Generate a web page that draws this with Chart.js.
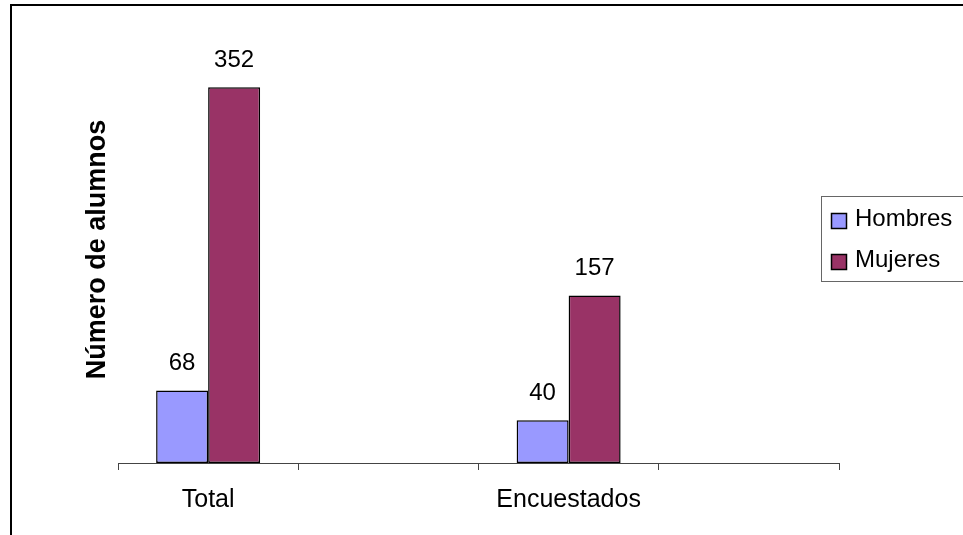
<!DOCTYPE html>
<html>
<head>
<meta charset="utf-8">
<script src="https://cdn.jsdelivr.net/npm/chart.js@4/dist/chart.umd.min.js"></script>
<style>
    html, body { margin: 0; padding: 0; background: #fff; overflow: hidden; }
    #frame {
        position: absolute; left: 10px; top: 4px;
        width: 1000px; height: 600px;
        border-left: 2px solid #000; border-top: 2px solid #000;
    }
    #wrap { position: absolute; left: 0; top: 0; width: 963px; height: 535px; }
</style>
</head>
<body>
<div id="frame"></div>
<div id="wrap"><canvas id="chart-alumnos" width="963" height="535"></canvas></div>
<script>
// Número de alumnos por sexo
const categories = ['Total', '', 'Encuestados', ''];
const hombres = [68, null, 40, null];
const mujeres = [352, null, 157, null];
const yMax = 400;

const FONT = "'Liberation Sans', Arial, sans-serif";

// value labels above each bar
const valueLabels = {
    id: 'valueLabels',
    afterDatasetsDraw(chart) {
        const ctx = chart.ctx;
        ctx.save();
        ctx.fillStyle = '#000';
        ctx.font = '24px ' + FONT;
        ctx.textAlign = 'center';
        ctx.textBaseline = 'alphabetic';
        chart.data.datasets.forEach((ds, i) => {
            chart.getDatasetMeta(i).data.forEach((bar, j) => {
                const v = ds.data[j];
                if (v == null) return;
                ctx.fillText(String(v), bar.x, bar.y - 20);
            });
        });
        ctx.restore();
    },
};

// legend box overlapping the right of the plot, like the original
const boxLegend = {
    id: 'boxLegend',
    afterDraw(chart) {
        const ctx = chart.ctx;
        ctx.save();
        ctx.fillStyle = '#fff';
        ctx.strokeStyle = '#666';
        ctx.lineWidth = 1;
        ctx.fillRect(821, 196, 150, 86);
        ctx.strokeRect(821.5, 196.5, 150, 85);
        ctx.font = '24px ' + FONT;
        ctx.textAlign = 'left';
        ctx.textBaseline = 'alphabetic';
        chart.data.datasets.forEach((ds, i) => {
            const cy = 220.5 + i * 41;
            ctx.fillStyle = ds.backgroundColor;
            ctx.fillRect(831, cy - 7.5, 15, 15);
            ctx.strokeStyle = '#000';
            ctx.lineWidth = 1.5;
            ctx.strokeRect(831.5, cy - 7, 15, 15);
            ctx.fillStyle = '#000';
            ctx.fillText(ds.label, 855, cy + 5);
        });
        ctx.restore();
    },
};

new Chart(document.getElementById('chart-alumnos'), {
    type: 'bar',
    data: {
        labels: categories,
        datasets: [
            {
                label: 'Hombres',
                data: hombres,
                backgroundColor: '#9999FF',
                borderColor: '#000',
                borderWidth: 1.5,
                borderSkipped: false,
                categoryPercentage: 0.577,
                barPercentage: 1,
            },
            {
                label: 'Mujeres',
                data: mujeres,
                backgroundColor: '#993366',
                borderColor: '#000',
                borderWidth: 1.5,
                borderSkipped: false,
                categoryPercentage: 0.577,
                barPercentage: 1,
            },
        ],
    },
    options: {
        responsive: false,
        animation: false,
        layout: { padding: { top: 36, right: 124, left: 0, bottom: 0 } },
        plugins: {
            legend: { display: false },
            tooltip: { enabled: false },
        },
        scales: {
            x: {
                offset: true,
                afterFit(scale) { scale.height = 72; },
                ticks: {
                    color: '#000',
                    padding: 15,
                    autoSkip: false,
                    maxRotation: 0,
                    font: { family: FONT, size: 25 },
                },
                grid: {
                    offset: true,
                    drawOnChartArea: false,
                    drawTicks: true,
                    tickLength: 7,
                    color: '#444',
                },
                border: { display: true, color: '#444', width: 1 },
            },
            y: {
                min: 0,
                max: yMax,
                afterFit(scale) { scale.width = 118; },
                ticks: { display: false },
                grid: { display: false },
                border: { display: false },
                title: {
                    display: true,
                    text: 'Número de alumnos',
                    color: '#000',
                    padding: { top: 81, bottom: 0 },
                    font: { family: FONT, size: 27, weight: 'bold' },
                },
            },
        },
    },
    plugins: [valueLabels, boxLegend],
});
</script>
</body>
</html>
